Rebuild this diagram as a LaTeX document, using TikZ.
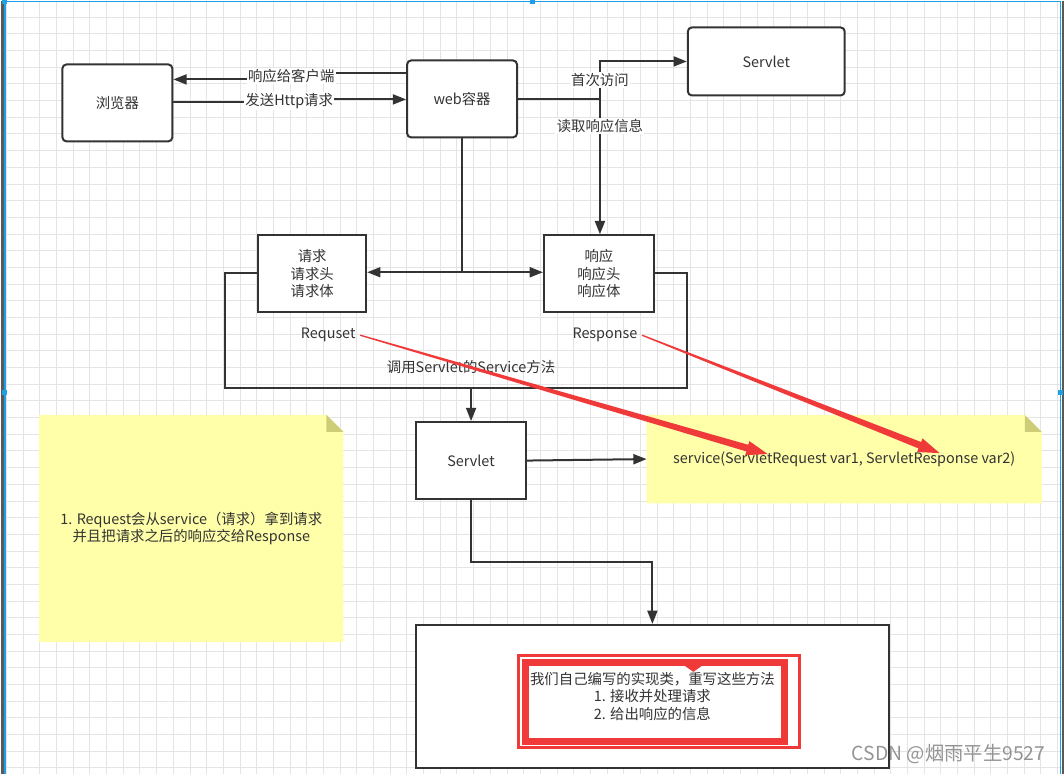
\documentclass[tikz,border=0pt]{standalone}
\usepackage{fontspec}
\setmainfont{Noto Sans CJK SC}
\usetikzlibrary{positioning,calc,arrows.meta,backgrounds}

\definecolor{inkgray}{RGB}{51,51,51}
\definecolor{gridgray}{RGB}{228,228,228}
\definecolor{notefill}{RGB}{255,255,170}
\definecolor{notefold}{RGB}{205,205,120}
\definecolor{markred}{RGB}{240,58,58}
\definecolor{selblue}{RGB}{30,160,230}

\tikzset{
    roundbox/.style={draw=inkgray, line width=1.5pt, rounded corners=3pt, fill=white, text=inkgray,
        minimum width=82.5pt, minimum height=57.75pt},
    sqbox/.style={draw=inkgray, line width=1.5pt, fill=white, text=inkgray, align=center,
        minimum width=82.5pt, minimum height=57.75pt},
    conn/.style={draw=inkgray, line width=1.5pt, -{Triangle[length=10pt,width=7.5pt]}},
    wire/.style={draw=inkgray, line width=1.5pt},
    lbl/.style={fill=white, text=inkgray, inner sep=1pt},
    txt/.style={text=inkgray, align=center},
    gridline/.style={draw=gridgray, line width=0.75pt}
}

% yellow sticky note behind a node
\newcommand\notepaper[1]{%
    \begin{scope}[on background layer]
        \fill[notefill] (#1.north west) -- ($(#1.north east)+(-17,0)$) -- ($(#1.north east)+(0,17)$)
            -- (#1.south east) -- (#1.south west) -- cycle;
        \fill[notefold] ($(#1.north east)+(-17,0)$) -- ($(#1.north east)+(-17,17)$)
            -- ($(#1.north east)+(0,17)$) -- cycle;
    \end{scope}}

% red marker arrow, thin at its start
\newcommand\taperarrow[2]{%
    \coordinate (tS) at (#1);
    \coordinate (tE) at (#2);
    \coordinate (tH) at ($(tE)!16pt!(tS)$);
    \fill[markred] ($(tS)!0.5pt!90:(tE)$) -- ($(tH)!2.6pt!90:(tE)$) -- ($(tH)!5.5pt!90:(tE)$) -- (tE)
        -- ($(tH)!5.5pt!-90:(tE)$) -- ($(tH)!2.6pt!-90:(tE)$) -- ($(tS)!0.5pt!-90:(tE)$) -- cycle;}

\begin{document}
\begin{tikzpicture}[x=0.75pt, y=-0.75pt, font=\fontsize{10.8}{13.1}\selectfont]
    % page and grid
    \begin{scope}[on background layer]
        \fill[white] (0,0) rectangle (1064,774);
        \foreach \gx in {0,...,63}
            {
                \draw[gridline] (6+16.7*\gx,0) -- (6+16.7*\gx,774);
            }
        \foreach \gy in {1,...,46}
            {
                \draw[gridline] (0,16.7*\gy) -- (1064,16.7*\gy);
            }
    \end{scope}
    \useasboundingbox (0,0) rectangle (1064,774);
    \fill[black!65] (0,0) rectangle (4,774);
    \fill[black!65] (1062,0) rectangle (1064,774);
    \draw[selblue, line width=1.2pt] (4.5,774) -- (4.5,1) -- (1061,1) -- (1061,774);
    \foreach \hx/\hy in {4/1,532/1,4/392,1061/392}
        {
            \fill[selblue] (\hx-2.5,\hy-2.5) rectangle (\hx+2.5,\hy+2.5);
        }

    % boxes
    \node[roundbox] (browser) at (117,102.5) {浏览器};
    \node[roundbox] (web) at (462,98.5) {web容器};
    \node[roundbox, minimum width=117.75pt, minimum height=51pt] (servletA) at (766.5,61) {Servlet};
    \node[sqbox, minimum width=81pt] (req) at (312,273.5) {请求\\请求头\\请求体};
    \node[sqbox] (resp) at (599,273.5) {响应\\响应头\\响应体};
    \node[sqbox] (servletB) at (471,460.5) {Servlet};
    \node[sqbox, minimum width=354.75pt, minimum height=107.25pt] (impl) at (652.5,696.5)
        {我们自己编写的实现类，重写这些方法\\1. 接收并处理请求\\2. 给出响应的信息};

    % notes
    \node[txt, minimum width=296.25pt, minimum height=66pt] (servicenote) at (844.5,459)
        {service(ServletRequest var1, ServletResponse var2)};
    \notepaper{servicenote}
    \node[txt, minimum width=228pt, minimum height=170.25pt] (reqnote) at (191,528.5)
        {1. Request会从service（请求）拿到请求\\并且把请求之后的响应交给Response};
    \notepaper{reqnote}

    % browser <-> web container
    \draw[conn] (web.west |- 0,73) -- (291,73) -- node[lbl] (lblback) {响应给客户端} (291,79) -- (browser.east |- 0,79);
    \draw[conn] (browser.east |- 0,102) -- (289,102) -- node[lbl] (lblsend) {发送Http请求} (289,99) -- (web.west |- 0,99);

    % web container -> servlet, response
    \draw[conn] (web.east |- 0,99) -- (600,99) -- node[lbl] (lblfirst) {首次访问} (600,61) -- (servletA.west);
    \coordinate (split) at (600,99);
    \draw[conn] (split) -- node[lbl, pos=0.2] (lblread) {读取响应信息} (split |- resp.north);

    % request / response objects
    \coordinate (fork) at (web.south |- 0,272);
    \draw[wire] (web.south) -- (fork);
    \draw[conn] (fork) -- (fork -| req.east);
    \draw[conn] (fork) -- (fork -| resp.west);
    \draw[wire] (req.west |- 0,273) -- (225,273) -- (225,388) -- (687,388) -- (687,273) -- (resp.east |- 0,273);
    \node[txt] (reqname) at (328,335) {Requset};
    \node[txt] (respname) at (605,335) {Response};
    \node[txt] (callsvc) at (471,367) {调用Servlet的Service方法};

    % servlet
    \coordinate (callout) at (471,388);
    \draw[conn] (callout) -- (servletB.north);
    \draw[conn] (servletB.east) -- (servicenote.west);
    \draw[conn] (servletB.south) -- (servletB.south |- 0,562) -| (impl.north);

    % red marks
    \draw[markred, line width=2.25pt] (518.5,655.5) rectangle (799.5,747.5);
    \draw[markred, line width=5.25pt] (525.5,662.5) rectangle (785,741.5);
    \fill[markred] (685,666) -- (702,666) -- (693.5,672) -- cycle;
    \coordinate (reqtip) at (768,454);
    \coordinate (resptip) at (940,453);
    \taperarrow{reqname.east}{reqtip}
    \taperarrow{respname.east}{resptip}

    % watermark
    \node[text=black!42, font=\fontsize{14.5}{16}\selectfont] (mark) at (949,754) {CSDN @烟雨平生9527};
\end{tikzpicture}
\end{document}
